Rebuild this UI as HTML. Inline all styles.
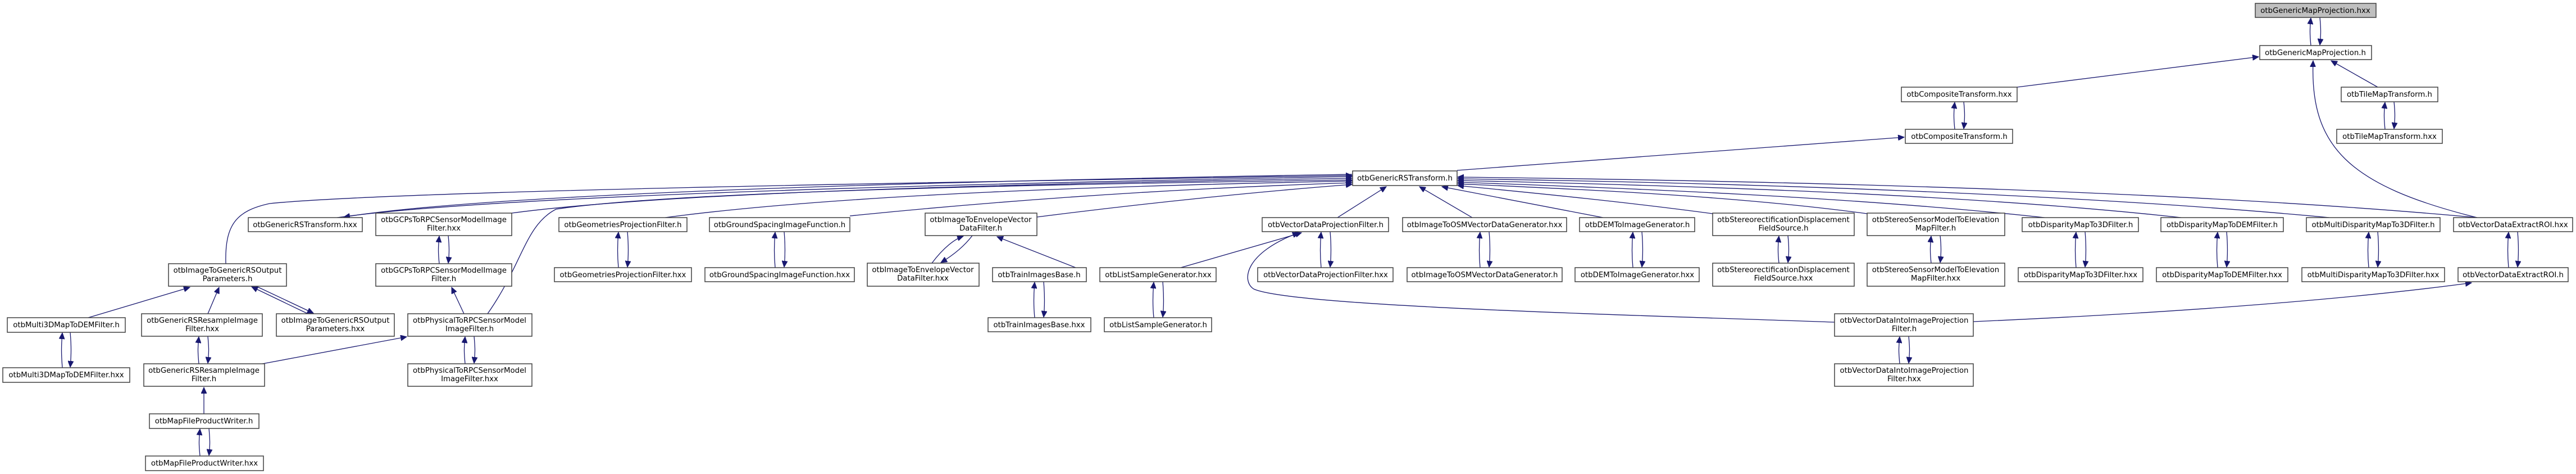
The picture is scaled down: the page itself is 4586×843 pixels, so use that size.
<!DOCTYPE html>
<html><head><meta charset="utf-8"><style>
html,body{margin:0;padding:0;background:#fff;}
svg{display:block;}
text{font-family:"DejaVu Sans","Liberation Sans",sans-serif;font-size:13.3px;fill:#000;}
rect{fill:#fff;stroke:#404040;stroke-width:1.5;}
path{fill:none;stroke:#191970;stroke-width:1.3;}
</style></head><body>
<svg width="4586" height="843" viewBox="0 0 4586 843" xmlns="http://www.w3.org/2000/svg">
<defs><marker id="a" markerUnits="userSpaceOnUse" markerWidth="12" markerHeight="10" refX="11" refY="5" orient="auto"><path d="M0,0 L11,5 L0,10 Z" style="fill:#191970;stroke:#191970;stroke-width:1"/></marker></defs>

<!-- edges -->
<g marker-end="url(#a)">
<!-- pairs -->
<path d="M4114,81 C4112,61 4112,51 4114,32"/><path d="M4130,31 C4132,51 4132,61 4130,80"/>
<path d="M4246,230 C4244,210 4244,200 4246,182"/><path d="M4262,181 C4264,200 4264,210 4262,229"/>
<path d="M3480,230 C3478,210 3478,200 3480,182"/><path d="M3496,181 C3498,200 3498,210 3496,229"/>
<path d="M782,469 C780,450 780,440 782,420"/><path d="M798,419 C800,440 800,450 798,468"/>
<path d="M1101,476 C1099,455 1099,435 1101,413"/><path d="M1117,412 C1119,435 1119,455 1117,475"/>
<path d="M1380,476 C1378,455 1378,435 1380,413"/><path d="M1396,412 C1398,435 1398,455 1396,475"/>
<path d="M1659,468 C1680,440 1700,425 1715,420"/><path d="M1731,419 C1715,440 1695,455 1675,467"/>
<path d="M2352,476 C2350,455 2350,435 2352,413"/><path d="M2368,412 C2370,435 2370,455 2368,475"/>
<path d="M2635,476 C2633,455 2633,435 2635,413"/><path d="M2651,412 C2653,435 2653,455 2651,475"/>
<path d="M2907,476 C2905,455 2905,435 2907,413"/><path d="M2923,412 C2925,435 2925,455 2923,475"/>
<path d="M3167,468 C3165,450 3165,438 3167,420"/><path d="M3183,419 C3185,438 3185,450 3183,467"/>
<path d="M3438,468 C3436,450 3436,438 3438,420"/><path d="M3454,419 C3456,438 3456,450 3454,467"/>
<path d="M3696,476 C3694,455 3694,435 3696,413"/><path d="M3712,412 C3714,435 3714,455 3712,475"/>
<path d="M3948,476 C3946,455 3946,435 3948,413"/><path d="M3964,412 C3966,435 3966,455 3964,475"/>
<path d="M4217,476 C4215,455 4215,435 4217,413"/><path d="M4233,412 C4235,435 4235,455 4233,475"/>
<path d="M4466,476 C4464,455 4464,435 4466,413"/><path d="M4482,412 C4484,435 4484,455 4482,475"/>
<path d="M1842,565 C1840,545 1840,525 1842,502"/><path d="M1858,501 C1860,525 1860,545 1858,564"/>
<path d="M2054,565 C2052,545 2052,525 2054,502"/><path d="M2070,501 C2072,525 2072,545 2070,564"/>
<path d="M548,558 L448,510"/><path d="M456,509 L558,557"/>
<path d="M354,647 C352,625 352,620 354,599"/><path d="M370,598 C372,620 372,625 370,646"/>
<path d="M111,654 C109,630 109,615 111,592"/><path d="M125,591 C127,615 127,630 125,653"/>
<path d="M828,647 C826,625 826,620 828,599"/><path d="M844,598 C846,620 846,625 844,646"/>
<path d="M3382,647 C3380,625 3380,620 3382,599"/><path d="M3398,598 C3400,620 3400,625 3398,646"/>
<path d="M356,811 C354,790 354,785 356,763"/><path d="M372,762 C374,785 374,790 372,810"/>
<!-- GRT.hxx pair -->
<path d="M600,387 C900,345 1800,325 2407,314"/><path d="M2407,310 C1800,320 900,340 612,386"/>
<!-- into GRT.h -->
<path d="M402,469 C400,400 420,375 480,362 C700,340 1600,325 2407,312"/>
<path d="M911,379 C1200,340 1900,325 2407,317"/>
<path d="M868,558 C930,470 935,400 990,372 C1200,340 1900,327 2407,320"/>
<path d="M1184,387 C1500,345 2000,330 2407,322"/>
<path d="M1513,384 C1800,355 2100,335 2407,325"/>
<path d="M1846,386 C2050,360 2250,340 2407,328"/>
<path d="M2381,387 L2468,332"/>
<path d="M2621,387 L2527,332"/>
<path d="M2854,387 L2567,332"/>
<path d="M3049,380 C2900,360 2750,345 2595,330"/>
<path d="M3324,380 C3100,350 2850,338 2595,327"/>
<path d="M3640,387 C3300,350 2900,335 2595,324"/>
<path d="M3883,387 C3500,345 3000,330 2595,321"/>
<path d="M4147,387 C3700,345 3100,325 2595,318"/>
<path d="M4410,387 C3900,340 3200,322 2595,315"/>
<!-- others -->
<path d="M157,565 L338,511"/>
<path d="M370,558 L390,511"/>
<path d="M826,558 L804,511"/>
<path d="M467,647 L724,599"/>
<path d="M363,736 L363,689"/>
<path d="M1915,476 L1775,421"/>
<path d="M2102,476 L2317,414"/>
<path d="M3266,573 C2900,560 2300,545 2232,514 C2210,500 2215,450 2312,414"/>
<path d="M3513,572 C3900,555 4200,530 4400,503"/>
<path d="M4410,387 C4180,330 4112,260 4118,108"/>
<path d="M4233,155 L4150,108"/>
<path d="M3591,155 L4021,101"/>
<path d="M2594,303 L3390,244"/>
</g>

<!-- nodes -->
<rect x="4015" y="6" width="215" height="25" style="fill:#bfbfbf"/><text x="4122" y="23" text-anchor="middle">otbGenericMapProjection.hxx</text>
<rect x="4023" y="81" width="199" height="25"/><text x="4122" y="98" text-anchor="middle">otbGenericMapProjection.h</text>
<rect x="4168" y="155" width="172" height="26"/><text x="4254" y="172" text-anchor="middle">otbTileMapTransform.h</text>
<rect x="4160" y="230" width="188" height="25"/><text x="4254" y="247" text-anchor="middle">otbTileMapTransform.hxx</text>
<rect x="3385" y="155" width="206" height="26"/><text x="3488" y="172" text-anchor="middle">otbCompositeTransform.hxx</text>
<rect x="3392" y="230" width="191" height="25"/><text x="3488" y="247" text-anchor="middle">otbCompositeTransform.h</text>
<rect x="2408" y="304" width="186" height="26"/><text x="2501" y="321" text-anchor="middle">otbGenericRSTransform.h</text>

<rect x="442" y="387" width="203" height="25"/><text x="543" y="404" text-anchor="middle">otbGenericRSTransform.hxx</text>
<rect x="995" y="387" width="228" height="25"/><text x="1109" y="404" text-anchor="middle">otbGeometriesProjectionFilter.h</text>
<rect x="1263" y="387" width="250" height="25"/><text x="1388" y="404" text-anchor="middle">otbGroundSpacingImageFunction.h</text>
<rect x="2247" y="387" width="225" height="25"/><text x="2360" y="404" text-anchor="middle">otbVectorDataProjectionFilter.h</text>
<rect x="2497" y="387" width="292" height="25"/><text x="2643" y="404" text-anchor="middle">otbImageToOSMVectorDataGenerator.hxx</text>
<rect x="2812" y="387" width="205" height="25"/><text x="2915" y="404" text-anchor="middle">otbDEMToImageGenerator.h</text>
<rect x="3600" y="387" width="207" height="25"/><text x="3704" y="404" text-anchor="middle">otbDisparityMapTo3DFilter.h</text>
<rect x="3847" y="387" width="218" height="25"/><text x="3956" y="404" text-anchor="middle">otbDisparityMapToDEMFilter.h</text>
<rect x="4106" y="387" width="238" height="25"/><text x="4225" y="404" text-anchor="middle">otbMultiDisparityMapTo3DFilter.h</text>
<rect x="4368" y="387" width="212" height="25"/><text x="4474" y="404" text-anchor="middle">otbVectorDataExtractROI.hxx</text>

<rect x="669" y="379" width="242" height="40"/><text x="790" y="395" text-anchor="middle">otbGCPsToRPCSensorModelImage</text><text x="790" y="410" text-anchor="middle">Filter.hxx</text>
<rect x="1647" y="379" width="199" height="40"/><text x="1746" y="395" text-anchor="middle">otbImageToEnvelopeVector</text><text x="1746" y="410" text-anchor="middle">DataFilter.h</text>
<rect x="3049" y="379" width="252" height="40"/><text x="3175" y="395" text-anchor="middle">otbStereorectificationDisplacement</text><text x="3175" y="410" text-anchor="middle">FieldSource.h</text>
<rect x="3324" y="379" width="245" height="40"/><text x="3446" y="395" text-anchor="middle">otbStereoSensorModelToElevation</text><text x="3446" y="410" text-anchor="middle">MapFilter.h</text>

<rect x="987" y="476" width="244" height="25"/><text x="1109" y="493" text-anchor="middle">otbGeometriesProjectionFilter.hxx</text>
<rect x="1255" y="476" width="266" height="25"/><text x="1388" y="493" text-anchor="middle">otbGroundSpacingImageFunction.hxx</text>
<rect x="1767" y="476" width="167" height="25"/><text x="1850" y="493" text-anchor="middle">otbTrainImagesBase.h</text>
<rect x="1958" y="476" width="207" height="25"/><text x="2062" y="493" text-anchor="middle">otbListSampleGenerator.hxx</text>
<rect x="2239" y="476" width="241" height="25"/><text x="2360" y="493" text-anchor="middle">otbVectorDataProjectionFilter.hxx</text>
<rect x="2505" y="476" width="276" height="25"/><text x="2643" y="493" text-anchor="middle">otbImageToOSMVectorDataGenerator.h</text>
<rect x="2804" y="476" width="221" height="25"/><text x="2915" y="493" text-anchor="middle">otbDEMToImageGenerator.hxx</text>
<rect x="3593" y="476" width="222" height="25"/><text x="3704" y="493" text-anchor="middle">otbDisparityMapTo3DFilter.hxx</text>
<rect x="3839" y="476" width="234" height="25"/><text x="3956" y="493" text-anchor="middle">otbDisparityMapToDEMFilter.hxx</text>
<rect x="4098" y="476" width="254" height="25"/><text x="4225" y="493" text-anchor="middle">otbMultiDisparityMapTo3DFilter.hxx</text>
<rect x="4376" y="476" width="196" height="25"/><text x="4474" y="493" text-anchor="middle">otbVectorDataExtractROI.h</text>

<rect x="300" y="469" width="210" height="40"/><text x="405" y="485" text-anchor="middle">otbImageToGenericRSOutput</text><text x="405" y="500" text-anchor="middle">Parameters.h</text>
<rect x="669" y="469" width="242" height="40"/><text x="790" y="485" text-anchor="middle">otbGCPsToRPCSensorModelImage</text><text x="790" y="500" text-anchor="middle">Filter.h</text>
<rect x="1544" y="468" width="199" height="41"/><text x="1643" y="484" text-anchor="middle">otbImageToEnvelopeVector</text><text x="1643" y="499" text-anchor="middle">DataFilter.hxx</text>
<rect x="3049" y="468" width="252" height="41"/><text x="3175" y="484" text-anchor="middle">otbStereorectificationDisplacement</text><text x="3175" y="499" text-anchor="middle">FieldSource.hxx</text>
<rect x="3324" y="468" width="245" height="41"/><text x="3446" y="484" text-anchor="middle">otbStereoSensorModelToElevation</text><text x="3446" y="499" text-anchor="middle">MapFilter.hxx</text>

<rect x="13" y="565" width="210" height="26"/><text x="118" y="582" text-anchor="middle">otbMulti3DMapToDEMFilter.h</text>
<rect x="1759" y="565" width="183" height="25"/><text x="1850" y="582" text-anchor="middle">otbTrainImagesBase.hxx</text>
<rect x="1966" y="565" width="191" height="25"/><text x="2062" y="582" text-anchor="middle">otbListSampleGenerator.h</text>

<rect x="252" y="558" width="215" height="40"/><text x="360" y="574" text-anchor="middle">otbGenericRSResampleImage</text><text x="360" y="589" text-anchor="middle">Filter.hxx</text>
<rect x="492" y="558" width="210" height="40"/><text x="597" y="574" text-anchor="middle">otbImageToGenericRSOutput</text><text x="597" y="589" text-anchor="middle">Parameters.hxx</text>
<rect x="726" y="558" width="221" height="40"/><text x="836" y="574" text-anchor="middle">otbPhysicalToRPCSensorModel</text><text x="836" y="589" text-anchor="middle">ImageFilter.h</text>
<rect x="3266" y="558" width="247" height="40"/><text x="3390" y="574" text-anchor="middle">otbVectorDataIntoImageProjection</text><text x="3390" y="589" text-anchor="middle">Filter.h</text>

<rect x="5" y="654" width="226" height="26"/><text x="118" y="671" text-anchor="middle">otbMulti3DMapToDEMFilter.hxx</text>
<rect x="256" y="647" width="215" height="40"/><text x="363" y="663" text-anchor="middle">otbGenericRSResampleImage</text><text x="363" y="678" text-anchor="middle">Filter.h</text>
<rect x="726" y="647" width="221" height="40"/><text x="836" y="663" text-anchor="middle">otbPhysicalToRPCSensorModel</text><text x="836" y="678" text-anchor="middle">ImageFilter.hxx</text>
<rect x="3266" y="647" width="247" height="40"/><text x="3390" y="663" text-anchor="middle">otbVectorDataIntoImageProjection</text><text x="3390" y="678" text-anchor="middle">Filter.hxx</text>

<rect x="266" y="736" width="195" height="26"/><text x="363" y="753" text-anchor="middle">otbMapFileProductWriter.h</text>
<rect x="259" y="811" width="210" height="26"/><text x="364" y="828" text-anchor="middle">otbMapFileProductWriter.hxx</text>
</svg>
</body></html>
